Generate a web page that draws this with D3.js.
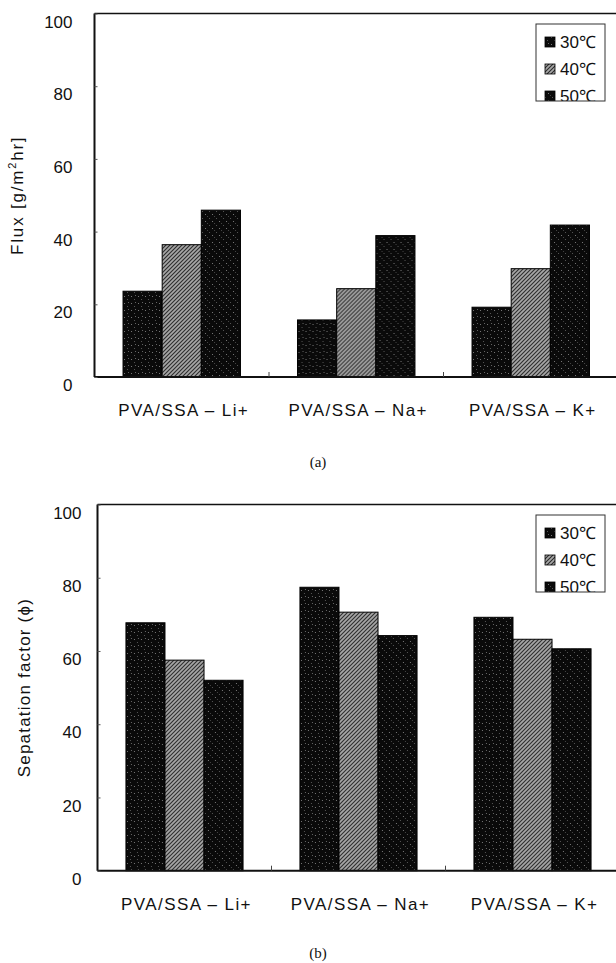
<!DOCTYPE html>
<html>
<head>
<meta charset="utf-8">
<script src="https://cdn.jsdelivr.net/npm/d3@7"></script>
<style>
  body { margin: 0; background: #fff; }
  svg { display: block; }
  text { font-family: "Liberation Sans", Arial, sans-serif; fill: #111; }
</style>
</head>
<body>
<div id="chart"></div>
<script>
// data
var categories = ["PVA/SSA \u2013 Li+", "PVA/SSA \u2013 Na+", "PVA/SSA \u2013 K+"];
var temps = ["30\u2103", "40\u2103", "50\u2103"];
var yTicks = [0, 20, 40, 60, 80, 100];

// (a) flux [g/m2hr]
var flux30 = [23.6, 15.7, 19.2];
var flux40 = [36.4, 24.3, 29.8];
var flux50 = [45.9, 38.9, 41.8];

// (b) separation factor
var sep30 = [67.7, 77.4, 69.2];
var sep40 = [57.5, 70.6, 63.2];
var sep50 = [52.0, 64.2, 60.6];

var width = 616, height = 963;
var svg = d3.select('#chart').append('svg').attr('width', width).attr('height', height);

// fill patterns: speckled black and grey hatch
var defs = svg.append('defs');
function speckle(id, dots) {
  var p = defs.append('pattern').attr('id', id).attr('patternUnits', 'userSpaceOnUse')
    .attr('width', 7).attr('height', 7);
  p.append('rect').attr('width', 7).attr('height', 7).attr('fill', '#0a0a0a');
  dots.forEach(function (d) {
    p.append('rect').attr('x', d[0]).attr('y', d[1]).attr('width', 1).attr('height', 1).attr('fill', d[2]);
  });
}
speckle('p30', [[1, 2, '#777'], [4, 5, '#555'], [5, 1, '#666']]);
speckle('p50', [[2, 1, '#555'], [5, 4, '#777'], [0, 6, '#444']]);
var h = defs.append('pattern').attr('id', 'p40').attr('patternUnits', 'userSpaceOnUse')
  .attr('width', 4).attr('height', 4);
h.append('rect').attr('width', 4).attr('height', 4).attr('fill', '#a8a8a8');
h.append('path').attr('d', 'M-1,1 l2,-2 M0,4 l4,-4 M3,5 l2,-2')
  .attr('stroke', '#2a2a2a').attr('stroke-width', 1.1);
var fills = ['url(#p30)', 'url(#p40)', 'url(#p50)'];

function drawPanel(cfg) {
  var g = svg.append('g');
  var x = d3.scaleBand().domain(categories).range([cfg.left, cfg.right])
    .paddingInner(0.327).paddingOuter(0.1635);
  var xs = d3.scaleBand().domain(temps).range([0, x.bandwidth()]);
  var y = d3.scaleLinear().domain([0, 100]).range([cfg.bottom, cfg.top]);

  // bars
  var groups = g.selectAll('g.grp').data(categories).enter().append('g')
    .attr('transform', function (d) { return 'translate(' + x(d) + ',0)'; });
  groups.selectAll('rect').data(function (d, i) {
    return cfg.series.map(function (s, j) { return { t: temps[j], v: s[i], f: fills[j] }; });
  }).enter().append('rect')
    .attr('x', function (d) { return xs(d.t); })
    .attr('y', function (d) { return y(d.v); })
    .attr('width', xs.bandwidth())
    .attr('height', function (d) { return y(0) - y(d.v); })
    .attr('fill', function (d) { return d.f; })
    .attr('stroke', '#000').attr('stroke-width', 1);

  // frame
  g.append('line').attr('x1', cfg.left).attr('x2', cfg.right + 4).attr('y1', y(100)).attr('y2', y(100))
    .attr('stroke', '#111').attr('stroke-width', 1.5);
  g.append('line').attr('x1', cfg.left).attr('x2', cfg.left).attr('y1', y(100)).attr('y2', y(0))
    .attr('stroke', '#111').attr('stroke-width', 2);
  g.append('line').attr('x1', cfg.left).attr('x2', cfg.right + 4).attr('y1', y(0)).attr('y2', y(0))
    .attr('stroke', '#111').attr('stroke-width', 2);

  // small ticks between categories
  g.selectAll('line.xt').data(categories.slice(1)).enter().append('line')
    .attr('x1', function (d) { return x(d) - x.step() * x.paddingInner() / 2; })
    .attr('x2', function (d) { return x(d) - x.step() * x.paddingInner() / 2; })
    .attr('y1', y(0)).attr('y2', y(0) - 5).attr('stroke', '#444');

  // y axis
  var ya = g.append('g').attr('transform', 'translate(' + cfg.left + ',0)')
    .call(d3.axisLeft(y).tickValues(yTicks).tickSize(-3).tickPadding(cfg.pad));
  ya.select('.domain').remove();
  ya.selectAll('line').attr('stroke', '#555');
  ya.selectAll('text').attr('font-size', 17).attr('dy', '0.8em')
    .style('font-family', '"Liberation Sans", Arial, sans-serif').attr('fill', '#111');

  // category labels
  g.selectAll('text.cat').data(categories).enter().append('text')
    .attr('x', function (d) { return x(d) + x.bandwidth() / 2 + 2; })
    .attr('y', y(0) + cfg.catDy)
    .attr('text-anchor', 'middle').attr('font-size', 17).attr('letter-spacing', 1.4)
    .text(function (d) { return d; });

  // y title
  var yt = g.append('text')
    .attr('transform', 'translate(' + cfg.titleX + ',' + (y(0) + y(100)) / 2 + ') rotate(-90)')
    .attr('text-anchor', 'middle').attr('font-size', 17).attr('letter-spacing', cfg.titleLs);
  cfg.title(yt);

  // legend
  var lg = g.append('g').attr('transform', 'translate(' + cfg.legX + ',' + cfg.legY + ')');
  var clipId = 'clip' + cfg.id;
  defs.append('clipPath').attr('id', clipId).append('rect')
    .attr('width', 69).attr('height', 77);
  var inner = lg.append('g').attr('clip-path', 'url(#' + clipId + ')');
  var items = inner.selectAll('g').data(temps).enter().append('g')
    .attr('transform', function (d, i) { return 'translate(0,' + (18 + i * 27) + ')'; });
  items.append('rect').attr('x', 9).attr('y', -5).attr('width', 10).attr('height', 10)
    .attr('fill', function (d, i) { return fills[i]; }).attr('stroke', '#000').attr('stroke-width', 0.8);
  items.append('text').attr('x', 24).attr('dy', '0.36em').attr('font-size', 17)
    .text(function (d) { return d; });
  lg.append('rect').attr('width', 69).attr('height', 77)
    .attr('fill', 'none').attr('stroke', '#333').attr('stroke-width', 1);

  // caption
  g.append('text').attr('x', 318).attr('y', cfg.capY).attr('text-anchor', 'middle')
    .style('font-family', '"Liberation Serif", "Times New Roman", serif')
    .attr('font-size', 15).text(cfg.caption);
}

drawPanel({
  id: 'a', left: 94.5, right: 618, top: 13.5, bottom: 377, pad: 22, catDy: 39,
  series: [flux30, flux40, flux50], titleX: 23, titleLs: 1.8,
  title: function (t) {
    t.append('tspan').text('Flux [g/m');
    t.append('tspan').attr('font-size', 11).attr('dy', -7).text('2');
    t.append('tspan').attr('dy', 7).text('hr]');
  },
  legX: 536, legY: 24, capY: 467, caption: '(a)'
});

drawPanel({
  id: 'b', left: 97.5, right: 619.5, top: 504.5, bottom: 870.7, pad: 16, catDy: 39,
  series: [sep30, sep40, sep50], titleX: 30, titleLs: 1.2,
  title: function (t) { t.text('Sepatation factor (\u03d5)'); },
  legX: 536, legY: 515, capY: 958, caption: '(b)'
});
</script>
</body>
</html>
